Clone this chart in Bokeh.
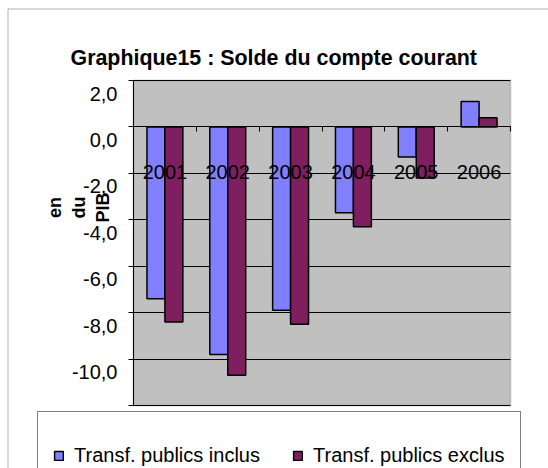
from math import pi
from bokeh.plotting import figure
from bokeh.models import (Range1d, FixedTicker, LinearAxis, Legend, LegendItem, Label,
                          ColumnDataSource, BoxAnnotation, Grid)
from bokeh.transform import dodge
from bokeh.embed import file_html
from bokeh.resources import INLINE

# ---- data ----
years = ["2001", "2002", "2003", "2004", "2005", "2006"]
inclus = [-7.4, -9.8, -7.9, -3.7, -1.3, 1.1]
exclus = [-8.4, -10.7, -8.5, -4.3, -2.2, 0.4]
y_ticks = [-12, -10, -8, -6, -4, -2, 0, 2]
y_tick_labels = ["-12,0", "-10,0", "-8,0", "-6,0", "-4,0", "-2,0", "0,0", "2,0"]
series_names = ["Transf. publics inclus", "Transf. publics exclus"]
title_text = "Graphique15 : Solde du compte courant"
y_label = "en\ndu\nPIB"

# ---- layout (pixels) ----
W, H = 548, 468
PL, PR, PT, PB = 133, 510, 80, 405      # plot-area edges on the page
FONT = "Liberation Sans"
C_IN = "#8080FF"
C_EX = "#801F5F"

n = len(years)
ymin, ymax = y_ticks[0], y_ticks[-1]
centers = [i + 0.5 for i in range(n)]          # slot centres on a 0..n axis
edges = list(range(n + 1))                     # slot boundaries

kx = (PR - PL) / n
ky = (PB - PT) / (ymax - ymin)
x_range = Range1d(-PL / kx, n + (W - PR) / kx)
y_range = Range1d(ymin - (H - PB) / ky, ymax + PT / ky)

p = figure(width=W, height=H, x_range=x_range, y_range=y_range,
           output_backend="svg", toolbar_location=None,
           x_axis_location=None, y_axis_location=None,
           min_border_left=0, min_border_right=0, min_border_top=0, min_border_bottom=0)
p.background_fill_color = "white"
p.border_fill_color = "white"
p.outline_line_color = None
p.xgrid.visible = False
p.ygrid.visible = False

# outer chart frame (right / bottom edges fall outside the page, as in the reference)
p.add_layout(BoxAnnotation(left=7.5, right=W + 20, top=H - 8.5, bottom=-20,
                           left_units="screen", right_units="screen",
                           top_units="screen", bottom_units="screen",
                           fill_color=None, line_color="black", line_width=1, level="image"))

# grey plot area
p.add_layout(BoxAnnotation(left=0, right=n, bottom=ymin, top=ymax,
                           fill_color="#C0C0C0", fill_alpha=1,
                           line_color="#808080", line_width=2, level="image"))

# horizontal grid lines
p.add_layout(Grid(dimension=1, ticker=FixedTicker(ticks=y_ticks), bounds=(ymin, ymax),
                  cross_bounds=(0, n), grid_line_color="black", grid_line_width=1,
                  level="underlay"), "center")

# bars
src = ColumnDataSource(dict(x=centers, year=years, inclus=inclus, exclus=exclus))
bw = 1 / 3.5
r_in = p.vbar(x=dodge("x", -bw / 2), top="inclus", bottom=0, width=bw,
              source=src, fill_color=C_IN, line_color="black", line_width=1.5)
r_ex = p.vbar(x=dodge("x", bw / 2), top="exclus", bottom=0, width=bw,
              source=src, fill_color=C_EX, line_color="black", line_width=1.5)

# y axis: line and ticks at x = 0
yax = LinearAxis(fixed_location=0, bounds=(ymin, ymax), ticker=FixedTicker(ticks=y_ticks),
                 major_tick_in=0, major_tick_out=5, major_tick_line_color="black",
                 minor_tick_line_color=None, axis_line_color="black",
                 major_label_text_color=None)
p.add_layout(yax, "left")

# y tick labels: drawn 13px below their ticks, as in the reference
shift = 13 / ky
p.extra_y_ranges = {"ylab": Range1d(y_range.start + shift, y_range.end + shift)}
ylab = LinearAxis(y_range_name="ylab", fixed_location=0, ticker=FixedTicker(ticks=y_ticks),
                  major_label_overrides={t: s for t, s in zip(y_ticks, y_tick_labels)},
                  major_tick_line_color=None, minor_tick_line_color=None, axis_line_color=None,
                  major_tick_in=0, major_tick_out=0, major_label_standoff=16,
                  major_label_text_font=FONT, major_label_text_font_size="20px",
                  major_label_text_color="black")
p.add_layout(ylab, "left")

# x axis at zero: category labels
cat_axis = LinearAxis(fixed_location=0, ticker=FixedTicker(ticks=centers),
                      major_label_overrides={c: y for c, y in zip(centers, years)},
                      major_tick_line_color=None, minor_tick_line_color=None, axis_line_color=None,
                      major_tick_in=0, major_tick_out=0,
                      major_label_standoff=38, major_label_text_font=FONT,
                      major_label_text_font_size="20px", major_label_text_color="black")
p.add_layout(cat_axis, "below")

# x axis line and ticks at category boundaries
edge_axis = LinearAxis(fixed_location=0, bounds=(0, n), ticker=FixedTicker(ticks=edges),
                       major_tick_in=0, major_tick_out=5, major_tick_line_color="black",
                       minor_tick_line_color=None, axis_line_color="black",
                       major_label_text_color=None)
p.add_layout(edge_axis, "below")

# title
p.add_layout(Label(x=70, y=H - 57, x_units="screen", y_units="screen", text=title_text,
                   text_align="left", text_baseline="alphabetic", text_font=FONT,
                   text_font_size="21.4px", text_font_style="bold", text_color="black"))

# y axis label
p.add_layout(Label(x=78, y=H - 207, x_units="screen", y_units="screen", text=y_label, angle=pi / 2,
                   text_align="center", text_baseline="middle", text_font=FONT,
                   text_font_size="18px", text_font_style="bold", text_line_height=1.2,
                   text_color="black"))

# legend
legend = Legend(items=[LegendItem(label=series_names[0], renderers=[r_in]),
                       LegendItem(label=series_names[1], renderers=[r_ex])],
                orientation="horizontal", location=(37, 55 - 86),
                border_line_color="black", border_line_width=1,
                background_fill_color="white", background_fill_alpha=1,
                glyph_width=11, glyph_height=11, label_standoff=10, spacing=32,
                padding=15, label_height=56, label_text_font=FONT, label_text_font_size="20px",
                label_text_color="black")
p.add_layout(legend, "center")

open("out.html", "w").write(file_html(p, INLINE))
